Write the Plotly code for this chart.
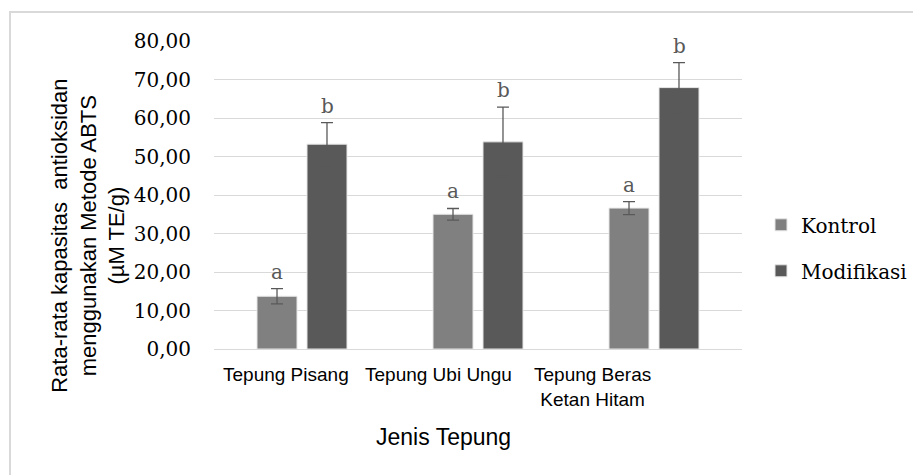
import plotly.graph_objects as go

categories = ["Tepung Pisang", "Tepung Ubi Ungu", "Tepung Beras<br>Ketan Hitam"]
kontrol = [13.7, 35.0, 36.6]
kontrol_err = [2.0, 1.5, 1.7]
modifikasi = [53.2, 53.8, 67.9]
modifikasi_err = [5.6, 9.0, 6.5]
kontrol_letters = ["a", "a", "a"]
modifikasi_letters = ["b", "b", "b"]
y_ticks = [0, 10, 20, 30, 40, 50, 60, 70, 80]

serif = "DejaVu Serif"
sans = "Liberation Sans"

# page body has an 8px margin; compensate so the plot lands at the intended pixels
OFF = 8
PL, PR, PT, PB = 214, 742, 41, 349.3  # plot area in window pixels
PW, PH = PR - PL, PB - PT

fig = go.Figure()
fig.add_trace(go.Bar(
    name="Kontrol", x=categories, y=kontrol, legendgroup="k",
    marker=dict(color="#808080", line=dict(color="#e6e6e6", width=1)),
    error_y=dict(type="data", array=kontrol_err, color="#595959", thickness=1.3, width=6),
))
fig.add_trace(go.Bar(
    name="Modifikasi", x=categories, y=modifikasi, legendgroup="m",
    marker=dict(color="#595959", line=dict(color="#e6e6e6", width=1)),
    error_y=dict(type="data", array=modifikasi_err, color="#595959", thickness=1.3, width=6),
))

for i, c in enumerate(categories):
    fig.add_annotation(x=c, y=kontrol[i] + kontrol_err[i], text=kontrol_letters[i],
                       xshift=-25, yshift=3, yanchor="bottom", showarrow=False,
                       font=dict(family=serif, size=20, color="#595959"))
    fig.add_annotation(x=c, y=modifikasi[i] + modifikasi_err[i], text=modifikasi_letters[i],
                       xshift=25, yshift=3, yanchor="bottom", showarrow=False,
                       font=dict(family=serif, size=20, color="#595959"))

# category labels (in the original they sit on a narrower spacing than the bars)
label_px = [285.5, 438, 592]
for c, px in zip(categories, label_px):
    fig.add_annotation(xref="paper", yref="paper", x=(px - PL) / PW, y=(PB - 362) / PH,
                       text=c, showarrow=False, xanchor="center", yanchor="top",
                       font=dict(family=sans, size=19, color="#000000"))

# y-axis title (three lines) and x-axis title as annotations
fig.add_annotation(xref="paper", yref="paper", x=(88 - PL) / PW, y=(PB - 236) / PH,
                   text="Rata-rata kapasitas  antioksidan<br>menggunakan Metode ABTS<br>(µM TE/g)",
                   textangle=-90, showarrow=False, xanchor="center", yanchor="middle",
                   font=dict(family=sans, size=22, color="#000000"))
fig.add_annotation(xref="paper", yref="paper", x=(443 - PL) / PW, y=(PB - 437) / PH,
                   text="Jenis Tepung", showarrow=False, xanchor="center", yanchor="middle",
                   font=dict(family=sans, size=23, color="#000000"))

# outer chart border
fig.add_shape(type="rect", xref="paper", yref="paper",
              x0=(10 - PL) / PW, x1=2, y0=-2, y1=(PB - 12) / PH,
              line=dict(color="#d9d9d9", width=2), fillcolor="rgba(0,0,0,0)", layer="below")

fig.update_layout(
    width=921 - OFF, height=475 - OFF,
    margin=dict(l=PL - OFF, r=921 - PR, t=PT - OFF, b=475 - PB, autoexpand=False),
    paper_bgcolor="white", plot_bgcolor="white",
    separators=",.",
    barmode="group", bargap=0.432, bargroupgap=0.2,
    showlegend=True,
    legend=dict(x=(761 - PL) / PW, y=(PB - 248) / PH, xanchor="left", yanchor="middle",
                traceorder="grouped", tracegroupgap=17,
                font=dict(family=serif, size=20, color="#000000"),
                bgcolor="rgba(0,0,0,0)"),
    xaxis=dict(showticklabels=False, showgrid=False, showline=False, ticks=""),
    yaxis=dict(range=[0, 80], tickvals=y_ticks, tickformat=".2f",
               tickfont=dict(family=serif, size=20, color="#000000"),
               showgrid=True, gridcolor="#d9d9d9", gridwidth=1,
               zeroline=True, zerolinecolor="#d9d9d9", zerolinewidth=1,
               showline=False, ticks="outside", ticklen=18, tickcolor="rgba(0,0,0,0)"),
)

fig.write_html("out.html")
